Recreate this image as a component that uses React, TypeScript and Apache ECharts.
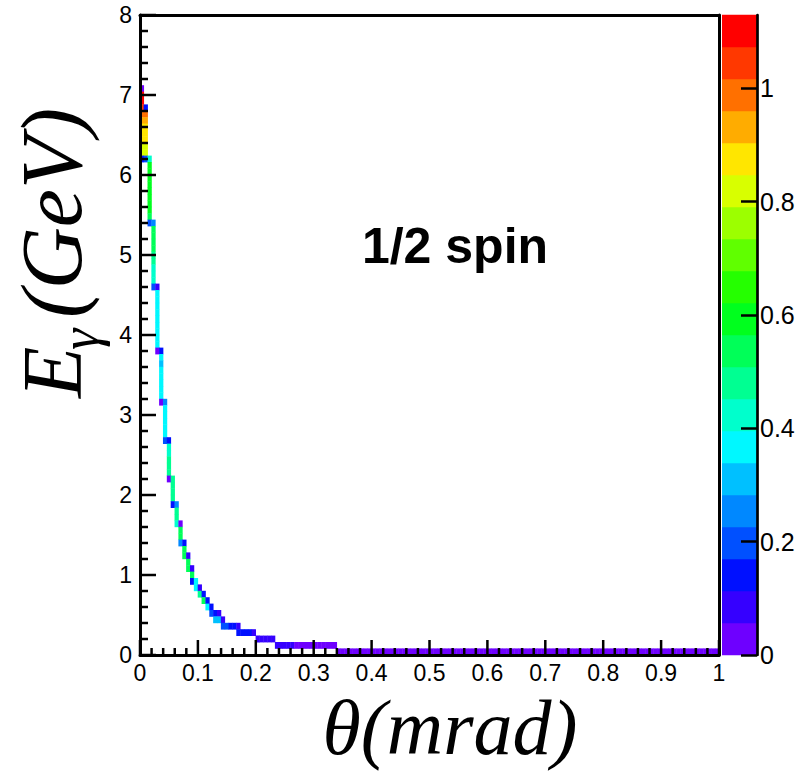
import React, { useEffect, useRef } from "react";
import * as echarts from "echarts";

// ---- Histogram binning ----
const THETA_MIN = 0;
const THETA_MAX = 1; // mrad
const THETA_BINS = 150;
const E_MIN = 0;
const E_MAX = 8; // GeV
const E_BINS = 100;
const Z_MAX = 1.129; // top of the colour scale

// ---- Occupied cells, stored as runs along one energy row ----
// energy bin index, first theta bin, last theta bin, bin content
const runEnergyBin = [
  88, 87, 86, 85, 85, 84, 83, 82, 81, 80, 79, 78, 77, 77, 77,
  76, 75, 74, 73, 72, 71, 70, 69, 68, 67, 67,
  66, 65, 64, 63, 62, 61, 60, 59, 58, 57, 57,
  56, 55, 54, 53, 52, 51, 50, 49, 48, 47, 47,
  46, 45, 44, 43, 42, 41, 40, 39, 39,
  38, 37, 36, 35, 34, 33, 33,
  32, 31, 30, 29, 28, 27, 27,
  26, 25, 24, 23, 23, 22, 21, 20, 20,
  19, 18, 17, 17, 16, 15, 15, 14, 13, 13, 12, 11, 11, 10, 10,
  9, 9, 8, 8, 7, 7, 6, 6, 6, 5, 5, 4, 4, 4, 3, 3, 2, 1, 1, 0,
];
const runThetaFrom = [
  0, 0, 0, 0, 1, 0, 0, 0, 0, 0, 0, 0, 0, 1, 2,
  2, 2, 2, 2, 2, 2, 2, 2, 2, 2, 3,
  3, 3, 3, 3, 3, 3, 3, 3, 3, 3, 4,
  4, 4, 4, 4, 4, 4, 4, 4, 4, 4, 5,
  5, 5, 5, 5, 5, 5, 5, 5, 6,
  6, 6, 6, 6, 6, 6, 7,
  7, 7, 7, 7, 7, 7, 8,
  8, 8, 8, 8, 9, 9, 9, 9, 10,
  10, 10, 10, 11, 11, 11, 12, 12, 12, 13, 13, 13, 14, 14, 15,
  15, 16, 16, 17, 17, 18, 18, 19, 20, 19, 21, 21, 23, 25, 25, 29, 30, 35, 40, 51,
];
const runThetaTo = [
  0, 0, 0, 0, 1, 1, 1, 1, 1, 1, 1, 1, 0, 1, 2,
  2, 2, 2, 2, 2, 2, 2, 2, 2, 2, 3,
  3, 3, 3, 3, 3, 3, 3, 3, 3, 3, 4,
  4, 4, 4, 4, 4, 4, 4, 4, 4, 4, 5,
  5, 5, 5, 5, 5, 5, 5, 5, 6,
  6, 6, 6, 6, 6, 6, 7,
  7, 7, 7, 7, 7, 7, 8,
  8, 8, 8, 8, 9, 9, 9, 9, 10,
  10, 10, 10, 11, 11, 11, 12, 12, 12, 13, 13, 13, 14, 14, 15,
  15, 16, 16, 17, 17, 18, 18, 19, 20, 20, 21, 22, 24, 25, 28, 29, 34, 39, 50, 149,
];
const runContent = [
  0.03, 1.11, 1.11, 1.05, 0.14, 0.99, 0.93, 0.88, 0.88, 0.88, 0.82, 0.82, 0.14, 0.2, 0.42,
  0.59, 0.59, 0.59, 0.59, 0.59, 0.59, 0.59, 0.59, 0.54, 0.2, 0.25,
  0.54, 0.54, 0.54, 0.54, 0.48, 0.48, 0.42, 0.42, 0.42, 0.2, 0.08,
  0.37, 0.37, 0.37, 0.37, 0.37, 0.37, 0.37, 0.37, 0.37, 0.03, 0.14,
  0.37, 0.31, 0.37, 0.37, 0.37, 0.37, 0.37, 0.03, 0.25,
  0.37, 0.37, 0.37, 0.37, 0.37, 0.2, 0.14,
  0.42, 0.42, 0.48, 0.48, 0.48, 0.03, 0.48,
  0.48, 0.48, 0.48, 0.14, 0.25, 0.48, 0.48, 0.42, 0.03,
  0.54, 0.54, 0.25, 0.14, 0.54, 0.54, 0.08, 0.54, 0.54, 0.08, 0.54, 0.14, 0.37, 0.37, 0.08,
  0.48, 0.14, 0.54, 0.14, 0.37, 0.14, 0.2, 0.14, 0.08, 0.31, 0.08, 0.2, 0.14, 0.08, 0.14, 0.08, 0.08, 0.08, 0.03, 0.03,
];

// ---- Axis ticks / labels ----
const xMajorTicks = [0, 0.1, 0.2, 0.3, 0.4, 0.5, 0.6, 0.7, 0.8, 0.9, 1];
const yMajorTicks = [0, 1, 2, 3, 4, 5, 6, 7, 8];
const colorbarTicks = [0, 0.2, 0.4, 0.6, 0.8, 1];
const MINOR_DIVISIONS = 5;

// ---- Palette (20 contour levels, ROOT rainbow) ----
const PALETTE = [
  "#6e00ff", "#3500ff", "#0010ff", "#0050ff", "#0088ff",
  "#00c0ff", "#00f8ff", "#00ffcc", "#00ff92", "#00ff58",
  "#00ff1e", "#25ff00", "#60ff00", "#9cff00", "#d8ff00",
  "#ffe600", "#ffac00", "#ff7000", "#ff3800", "#ff0000",
];
const N_LEVELS = PALETTE.length;

function levelColor(z: number): string {
  const i = Math.min(N_LEVELS - 1, Math.max(0, Math.floor((z / Z_MAX) * N_LEVELS)));
  return PALETTE[i];
}

function minorTicksOf(majors: number[]): number[] {
  const out: number[] = [];
  for (let i = 0; i < majors.length - 1; i++) {
    const step = (majors[i + 1] - majors[i]) / MINOR_DIVISIONS;
    for (let s = 1; s < MINOR_DIVISIONS; s++) out.push(majors[i] + s * step);
  }
  return out;
}

function buildCells() {
  const dT = (THETA_MAX - THETA_MIN) / THETA_BINS;
  const dE = (E_MAX - E_MIN) / E_BINS;
  const cells: number[][] = [];
  for (let r = 0; r < runEnergyBin.length; r++) {
    for (let k = runThetaFrom[r]; k <= runThetaTo[r]; k++) {
      const j = runEnergyBin[r];
      cells.push([
        THETA_MIN + k * dT,
        THETA_MIN + (k + 1) * dT,
        E_MIN + j * dE,
        E_MIN + (j + 1) * dE,
        runContent[r],
      ]);
    }
  }
  return cells;
}

function buildColorbar() {
  const out: number[][] = [];
  for (let i = 0; i < N_LEVELS; i++) {
    out.push([(i * Z_MAX) / N_LEVELS, ((i + 1) * Z_MAX) / N_LEVELS, i]);
  }
  return out;
}

// tick marks: [axis (0 = theta, 1 = energy), value, major (1) / minor (0)]
function buildTicks() {
  const out: number[][] = [];
  xMajorTicks.forEach((v) => out.push([0, v, 1]));
  minorTicksOf(xMajorTicks).forEach((v) => out.push([0, v, 0]));
  yMajorTicks.forEach((v) => out.push([1, v, 1]));
  minorTicksOf(yMajorTicks).forEach((v) => out.push([1, v, 0]));
  return out;
}

const FONT = "'Liberation Sans', Arial, Helvetica, sans-serif";
const SERIF = "'Liberation Serif', 'Times New Roman', Times, serif";
const fmt = (v: number) => String(parseFloat(v.toFixed(2)));

export default function App() {
  const ref = useRef<HTMLDivElement>(null);

  useEffect(() => {
    if (!ref.current) return;
    const chart = echarts.init(ref.current, undefined, { renderer: "svg" });

    const tickLine = { color: "#000", width: 2.5 };
    const frameLine = { show: true, onZero: false, lineStyle: { color: "#000", width: 3 } };

    const option: any = {
      animation: false,
      backgroundColor: "#fff",
      textStyle: { fontFamily: FONT },
      grid: [
        { left: 140, top: 15, width: 579, height: 640, show: false },
        { left: 722, top: 15, width: 35, height: 640, show: false },
      ],
      xAxis: [
        {
          type: "value",
          gridIndex: 0,
          min: THETA_MIN,
          max: THETA_MAX,
          position: "bottom",
          z: 10,
          axisLine: frameLine,
          axisTick: { show: false },
          splitLine: { show: false },
          axisLabel: {
            show: true,
            color: "#000",
            fontSize: 23,
            fontFamily: FONT,
            margin: 6,
            customValues: xMajorTicks,
            formatter: fmt,
          },
        },
        {
          type: "value",
          gridIndex: 0,
          min: THETA_MIN,
          max: THETA_MAX,
          position: "top",
          z: 10,
          axisLine: frameLine,
          axisTick: { show: false },
          axisLabel: { show: false },
          splitLine: { show: false },
        },
        {
          type: "value",
          gridIndex: 1,
          min: 0,
          max: 1,
          show: false,
        },
      ],
      yAxis: [
        {
          type: "value",
          gridIndex: 0,
          min: E_MIN,
          max: E_MAX,
          position: "left",
          z: 10,
          axisLine: frameLine,
          axisTick: { show: false },
          splitLine: { show: false },
          axisLabel: {
            show: true,
            color: "#000",
            fontSize: 23,
            fontFamily: FONT,
            margin: 8,
            customValues: yMajorTicks,
            formatter: fmt,
          },
        },
        {
          type: "value",
          gridIndex: 0,
          min: E_MIN,
          max: E_MAX,
          position: "right",
          z: 10,
          axisLine: frameLine,
          axisTick: { show: false },
          axisLabel: { show: false },
          splitLine: { show: false },
        },
        {
          type: "value",
          gridIndex: 1,
          min: 0,
          max: Z_MAX,
          position: "right",
          z: 10,
          axisLine: { show: true, onZero: false, lineStyle: { color: "#000", width: 2.7 } },
          axisTick: {
            show: true,
            inside: true,
            length: 16,
            lineStyle: tickLine,
            customValues: colorbarTicks,
          },
          splitLine: { show: false },
          axisLabel: {
            show: true,
            color: "#000",
            fontSize: 25,
            fontFamily: FONT,
            margin: 3,
            customValues: colorbarTicks,
            formatter: fmt,
          },
        },
      ],
      series: [
        {
          type: "custom",
          name: "counts",
          xAxisIndex: 0,
          yAxisIndex: 0,
          clip: true,
          z: 2,
          encode: { x: [0, 1], y: [2, 3] },
          data: buildCells(),
          renderItem: (params: any, api: any) => {
            const p0 = api.coord([api.value(0), api.value(3)]);
            const p1 = api.coord([api.value(1), api.value(2)]);
            return {
              type: "rect",
              shape: {
                x: p0[0] - 0.2,
                y: p0[1] - 0.2,
                width: p1[0] - p0[0] + 0.4,
                height: p1[1] - p0[1] + 0.4,
              },
              style: { fill: levelColor(api.value(4)) },
            };
          },
        },
        {
          type: "custom",
          name: "ticks",
          xAxisIndex: 0,
          yAxisIndex: 0,
          clip: false,
          z: 20,
          silent: true,
          data: buildTicks(),
          renderItem: (params: any, api: any) => {
            const isX = api.value(0) === 0;
            const v = api.value(1);
            const major = api.value(2) === 1;
            if (isX) {
              const p = api.coord([v, E_MIN]);
              const len = major ? 15 : 7;
              return {
                type: "line",
                shape: { x1: p[0], y1: p[1], x2: p[0], y2: p[1] - len },
                style: { stroke: "#000", lineWidth: 2.5 },
              };
            }
            const p = api.coord([THETA_MIN, v]);
            const len = major ? 16 : 8;
            return {
              type: "line",
              shape: { x1: p[0], y1: p[1], x2: p[0] + len, y2: p[1] },
              style: { stroke: "#000", lineWidth: 2.5 },
            };
          },
        },
        {
          type: "custom",
          name: "palette",
          xAxisIndex: 2,
          yAxisIndex: 2,
          encode: { y: [0, 1] },
          data: buildColorbar(),
          renderItem: (params: any, api: any) => {
            const p0 = api.coord([0, api.value(1)]);
            const p1 = api.coord([1, api.value(0)]);
            return {
              type: "rect",
              shape: {
                x: p0[0],
                y: p0[1] - 0.3,
                width: p1[0] - p0[0],
                height: p1[1] - p0[1] + 0.6,
              },
              style: { fill: PALETTE[api.value(2)] },
            };
          },
        },
      ],
      graphic: [
        {
          type: "group",
          x: 52,
          y: 398,
          rotation: Math.PI / 2,
          children: [
            {
              type: "text",
              x: 0,
              y: 0,
              style: {
                text: "E",
                font: `italic 84px ${SERIF}`,
                fill: "#000",
                align: "left",
                verticalAlign: "middle",
              },
            },
            {
              type: "text",
              x: 48,
              y: 28,
              style: {
                text: "γ",
                font: `italic 54px ${SERIF}`,
                fill: "#000",
                align: "left",
                verticalAlign: "middle",
              },
            },
            {
              type: "text",
              x: 80,
              y: 0,
              style: {
                text: "(GeV)",
                font: `italic 86px ${SERIF}`,
                fill: "#000",
                align: "left",
                verticalAlign: "middle",
              },
            },
          ],
        },
        {
          type: "text",
          x: 450,
          y: 727,
          style: {
            text: "θ(mrad)",
            font: `italic 78px ${SERIF}`,
            fill: "#000",
            align: "center",
            verticalAlign: "middle",
          },
        },
        {
          type: "text",
          x: 455,
          y: 246,
          style: {
            text: "1/2 spin",
            font: `bold 50px ${FONT}`,
            fill: "#000",
            align: "center",
            verticalAlign: "middle",
          },
        },
      ],
    };

    chart.setOption(option);
    return () => chart.dispose();
  }, []);

  return (
    <div
      ref={ref}
      style={{ position: "fixed", left: 0, top: 0, width: 802, height: 772, background: "#fff" }}
    />
  );
}
